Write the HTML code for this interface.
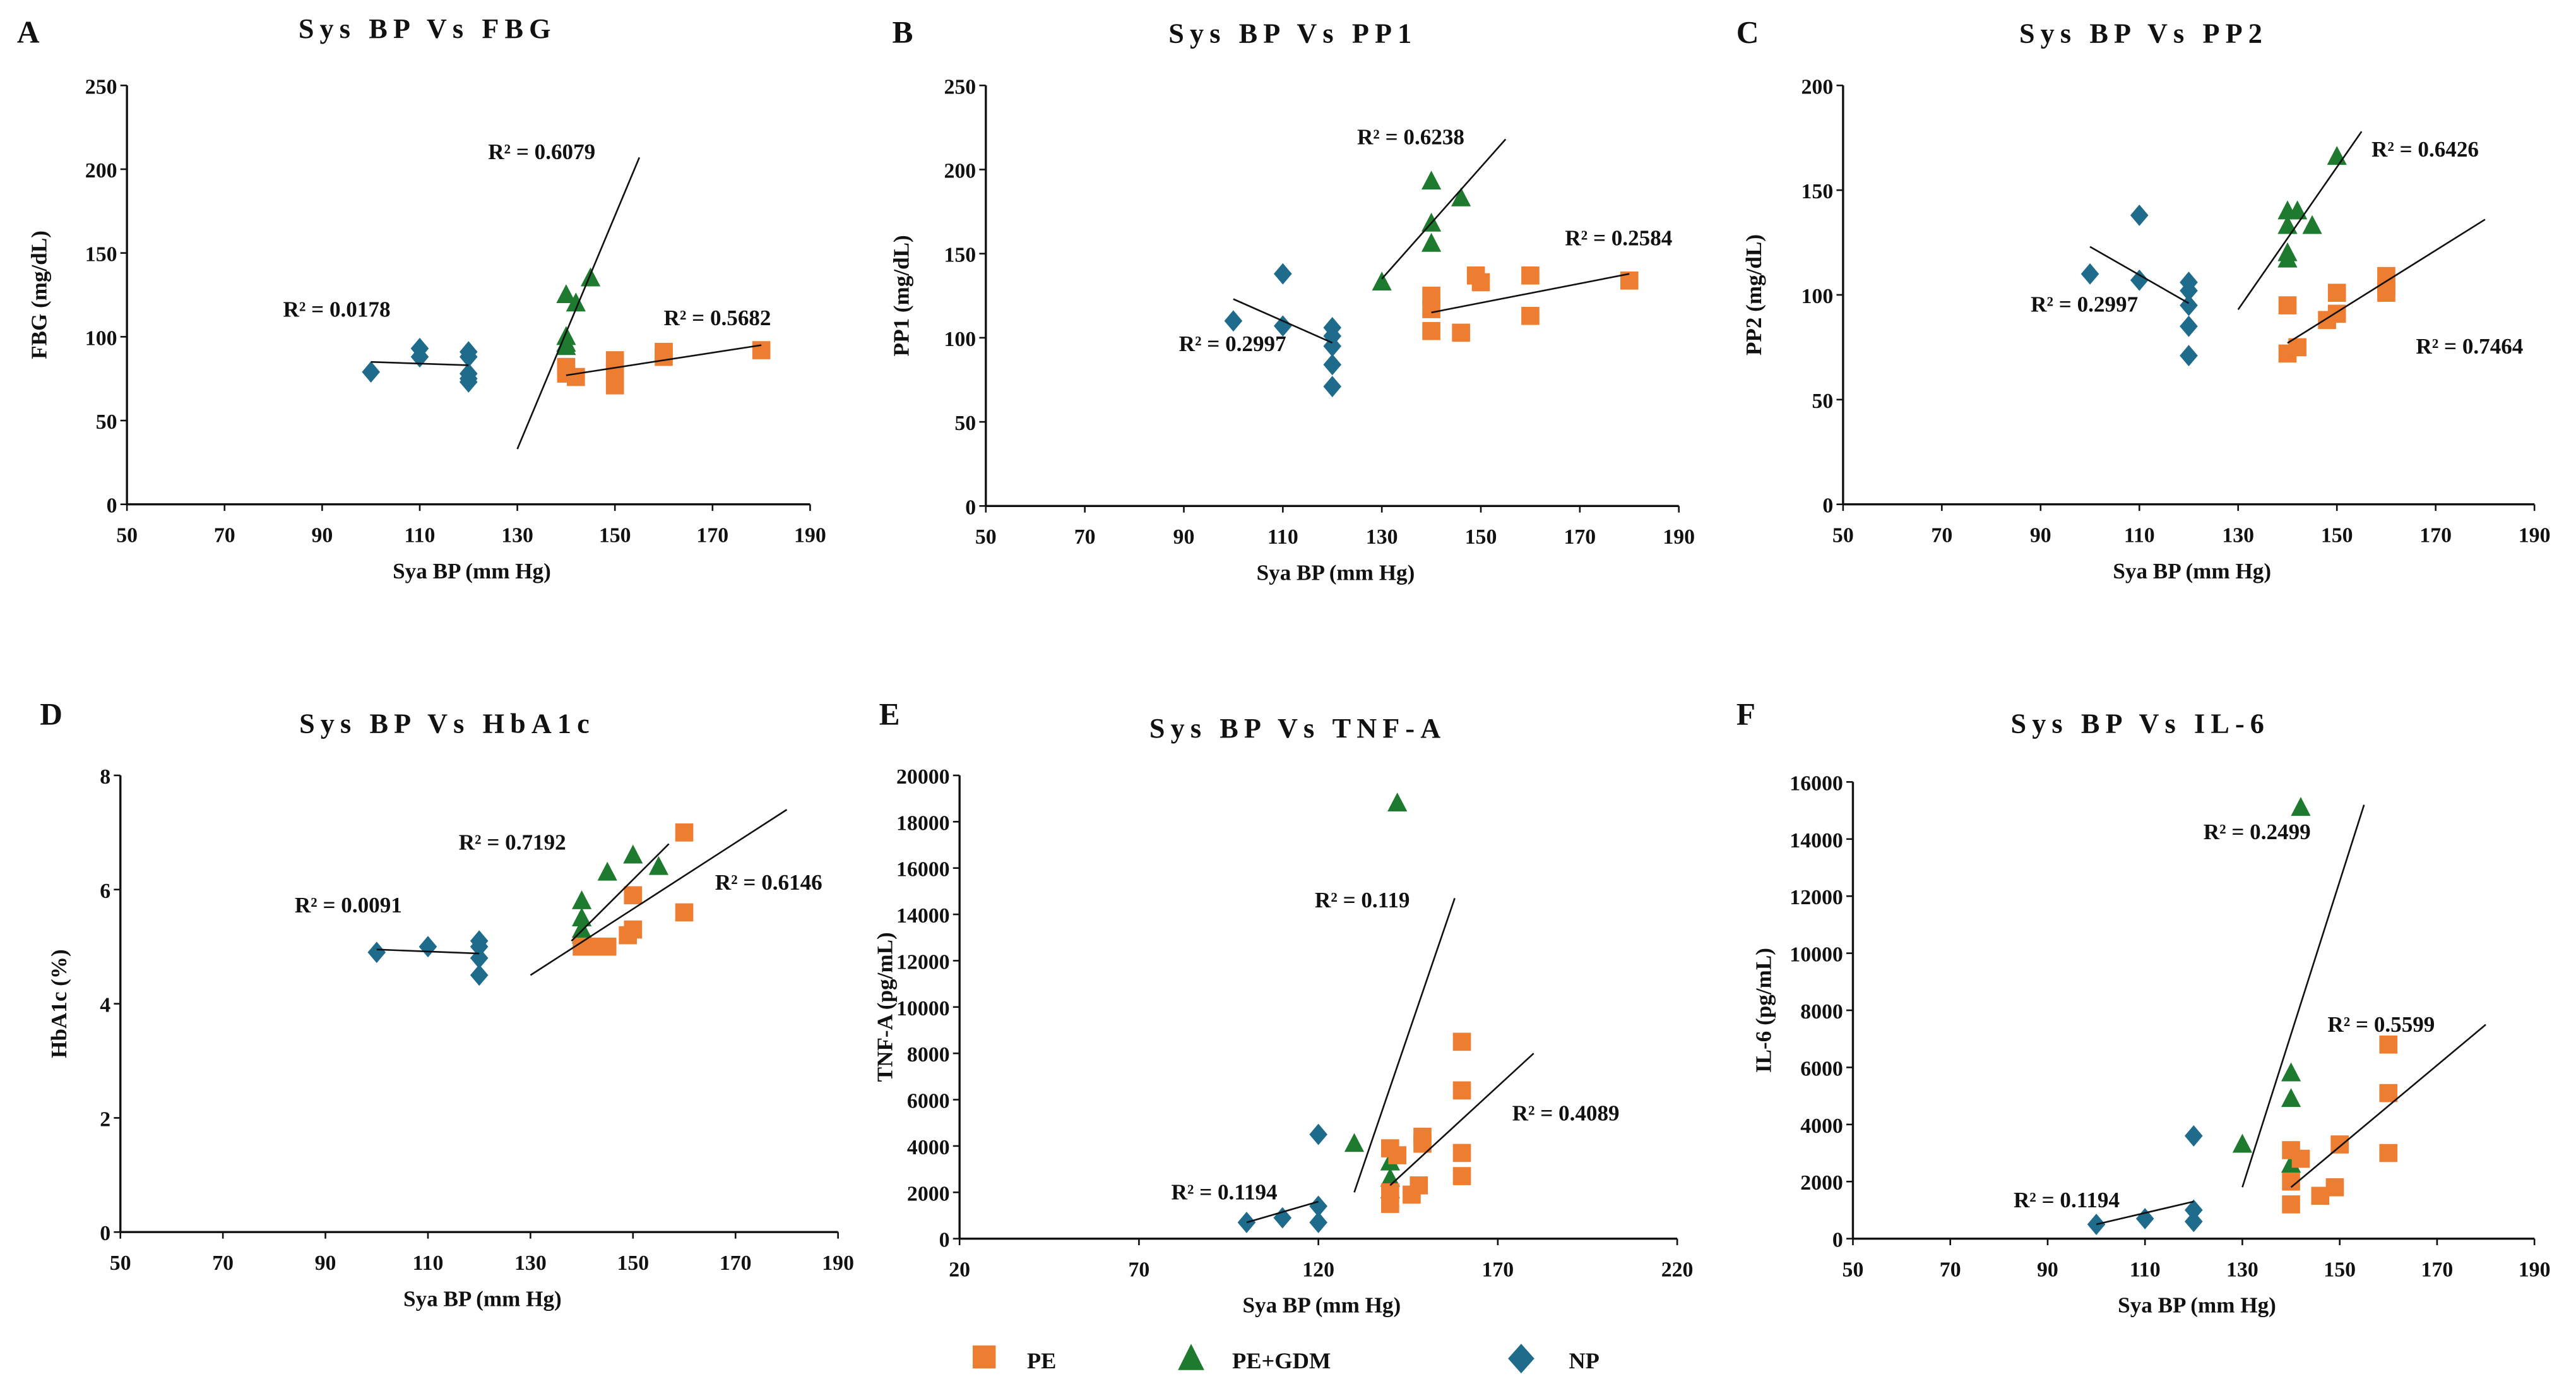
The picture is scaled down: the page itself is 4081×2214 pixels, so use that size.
<!DOCTYPE html>
<html><head><meta charset="utf-8"><style>
html,body{margin:0;padding:0;background:#fff}
svg{display:block}
text{font-family:"Liberation Serif",serif;font-weight:bold;fill:#111}
</style></head><body>
<svg id="fig" width="4081" height="2214" viewBox="0 0 1568 851" xmlns="http://www.w3.org/2000/svg"></svg>
<script>
// ---- Data ----
const panelIds=['A','B','C','D','E','F'];
const panelTitles=['Sys BP Vs FBG','Sys BP Vs PP1','Sys BP Vs PP2','Sys BP Vs HbA1c','Sys BP Vs TNF-A','Sys BP Vs IL-6'];
const yTitles=['FBG (mg/dL)','PP1 (mg/dL)','PP2 (mg/dL)','HbA1c (%)','TNF-A (pg/mL)','IL-6 (pg/mL)'];
const xTickSets=[[50,70,90,110,130,150,170,190],[50,70,90,110,130,150,170,190],[50,70,90,110,130,150,170,190],[50,70,90,110,130,150,170,190],[20,70,120,170,220],[50,70,90,110,130,150,170,190]];
const yTickSets=[[0,50,100,150,200,250],[0,50,100,150,200,250],[0,50,100,150,200],[0,2,4,6,8],[0,2000,4000,6000,8000,10000,12000,14000,16000,18000,20000],[0,2000,4000,6000,8000,10000,12000,14000,16000]];
// NP series
const npX=[[100,110,110,120,120,120,120,120],[100,110,110,120,120,120,120,120],[100,110,110,120,120,120,120,120],[100,110,120,120,120,120],[100,110,120,120,120],[100,110,120,120,120]];
const npY=[[79,93,88,91,88,78,75,73],[110,138,107,106,101,95,84,71],[110,138,107,106,102,95,85,71],[4.9,5.0,5.1,5.0,4.8,4.5],[700,900,4500,1400,700],[500,700,3600,1000,600]];
// PE+GDM series
const gdmX=[[140,142,145,140,140,140],[130,140,140,140,146],[140,140,140,140,142,145,150],[140,140,140,140,140,145,150,155],[130,140,140,140,142],[130,140,140,140,142]];
const gdmY=[[125,120,135,100,96,94],[133,193,168,156,183],[140,133,120,117,140,133,166],[5.8,5.5,5.3,5.2,5.1,6.3,6.6,6.4],[4100,3300,2600,2100,18800],[3300,5800,4900,2600,15100]];
// PE series
const peX=[[140,140,142,150,150,150,160,160,180],[140,140,140,146,149,150,160,160,180],[140,140,142,148,150,150,160,160,160],[140,142,145,150,150,149,160,160],[140,140,140,142,146,148,149,149,160,160,160,160],[140,140,140,142,146,149,150,160,160,160]];
const peY=[[82,78,76,86,80,71,91,88,92],[125,117,104,103,137,133,137,113,134],[95,72,75,88,101,91,109,104,101],[5.0,5.0,5.0,5.9,5.3,5.2,7.0,5.6],[3900,2000,1500,3600,1900,2300,4400,4100,8500,6400,3700,2700],[3100,2000,1200,2800,1500,1800,3300,6800,5100,3000]];
// trend lines [x1,y1,x2,y2]
const npTrend=[[100,85,120,83],[100,123,120,97],[100,123,120,96],[100,4.95,120,4.88],[100,700,120,1600],[100,500,120,1300]];
const gdmTrend=[[130,33,155,207],[130,135,155,218],[130,93,155,178],[138,5.1,157,6.8],[130,2000,158,14700],[130,1800,155,15200]];
const peTrend=[[140,77,180,95],[140,115,180,138],[140,77,180,136],[130,4.5,180,7.4],[140,2300,180,8000],[140,1800,180,7500]];
// R² labels [text, x, y] in data coordinates
const r2Labels=[
 [['0.0178',82,112],['0.6079',124,206],['0.5682',160,107]],
 [['0.6238',125,215],['0.2584',167,155],['0.2997',89,92],],
 [['0.6426',157,166],['0.2997',88,92],['0.7464',166,72]],
 [['0.7192',116,6.7],['0.0091',84,5.6],['0.6146',166,6.0]],
 [['0.119',119,14300],['0.4089',174,5100],['0.1194',79,1700]],
 [['0.2499',122,14000],['0.5599',147.5,7250],['0.1194',83,1100]]];
// ---- Layout (pixel geometry, not data) ----
const boxes=[
 {x0:77,x1:493,y0:52,y1:307,tx:260,ty:23,lx:10,ly:26,yl:28},
 {x0:600,x1:1022,y0:52,y1:308,tx:787,ty:26,lx:543,ly:26,yl:553},
 {x0:1122,x1:1543,y0:52,y1:307,tx:1305,ty:26,lx:1057,ly:26,yl:1072},
 {x0:73,x1:510,y0:472,y1:750,tx:272,ty:446,lx:24,ly:441,yl:40},
 {x0:584,x1:1021,y0:472,y1:754,tx:790,ty:449,lx:535,ly:441,yl:543},
 {x0:1128,x1:1543,y0:476,y1:754,tx:1303,ty:446,lx:1057,ly:441,yl:1078}];
const C_PE='#ED7D31',C_GDM='#1E7A2E',C_NP='#1F6B8C';
const svg=document.getElementById('fig');
const NS='http://www.w3.org/2000/svg';
function mk(tag,attrs,parent){const e=document.createElementNS(NS,tag);for(const k in attrs)e.setAttribute(k,attrs[k]);(parent||svg).appendChild(e);return e;}
function txt(s,attrs,parent){const e=mk('text',attrs,parent);e.textContent=s;return e;}

panelIds.forEach((id,p)=>{
 const b=boxes[p],xt=xTickSets[p],yt=yTickSets[p];
 const xmin=xt[0],xmax=xt[xt.length-1],ymin=yt[0],ymax=yt[yt.length-1];
 const sx=v=>b.x0+(v-xmin)/(xmax-xmin)*(b.x1-b.x0);
 const sy=v=>b.y1-(v-ymin)/(ymax-ymin)*(b.y1-b.y0);
 const g=mk('g',{});
 
 
 const pl=txt(id,{x:b.lx,y:b.ly,'font-size':19},g);
 
 
 const t=txt(panelTitles[p],{x:b.tx,y:b.ty,'font-size':17,'text-anchor':'middle','letter-spacing':'3.5'},g);
 
 
 const ya=mk('line',{x1:b.x0,y1:b.y0,x2:b.x0,y2:b.y1,stroke:'#111','stroke-width':1.3},g);
 
 
 const xa=mk('line',{x1:b.x0,y1:b.y1,x2:b.x1,y2:b.y1,stroke:'#111','stroke-width':1.3},g);
 
 
 xt.forEach(v=>{
  mk('line',{x1:sx(v),y1:b.y1,x2:sx(v),y2:b.y1+4,stroke:'#111','stroke-width':1},g);
  const l=txt(String(v),{x:sx(v),y:b.y1+23,'font-size':13,'text-anchor':'middle'},g);
  
  
 });
 yt.forEach(v=>{
  mk('line',{x1:b.x0-4,y1:sy(v),x2:b.x0,y2:sy(v),stroke:'#111','stroke-width':1},g);
  const l=txt(String(v),{x:b.x0-6,y:sy(v)+5,'font-size':13,'text-anchor':'end'},g);
  
  
 });
 const xl=txt('Sya BP (mm Hg)',{x:(b.x0+b.x1)/2+2,y:b.y1+45,'font-size':13.5,'text-anchor':'middle'},g);
 
 
 const yc=(b.y0+b.y1)/2;
 const yl=txt(yTitles[p],{x:b.yl,y:yc,'font-size':13.5,'text-anchor':'middle',transform:'rotate(-90 '+b.yl+' '+yc+')'},g);
 
 
 // markers
 npX[p].forEach((x,i)=>{
  const cx=sx(x),cy=sy(npY[p][i]);
  const m=mk('polygon',{points:`${cx},${cy-6.5} ${cx+5.5},${cy} ${cx},${cy+6.5} ${cx-5.5},${cy}`,fill:C_NP},g);
  
  
 });
 gdmX[p].forEach((x,i)=>{
  const cx=sx(x),cy=sy(gdmY[p][i]);
  const m=mk('polygon',{points:`${cx},${cy-6.5} ${cx+6},${cy+5} ${cx-6},${cy+5}`,fill:C_GDM},g);
  
  
 });
 peX[p].forEach((x,i)=>{
  const cx=sx(x),cy=sy(peY[p][i]);
  const m=mk('rect',{x:cx-5.5,y:cy-5.5,width:11,height:11,fill:C_PE},g);
  
  
 });
 [[npTrend,'np-trendline'],[gdmTrend,'pe-gdm-trendline'],[peTrend,'pe-trendline']].forEach(([arr,nm])=>{
  const a=arr[p];
  const l=mk('line',{x1:sx(a[0]),y1:sy(a[1]),x2:sx(a[2]),y2:sy(a[3]),stroke:'#111','stroke-width':1},g);
  
  
 });
 r2Labels[p].forEach(r=>{
  const l=txt('R² = '+r[0],{x:sx(r[1]),y:sy(r[2]),'font-size':13.5},g);
  
  
 });
});
// legend
const lg=mk('g',{});


const l1=mk('rect',{x:592,y:819,width:14,height:14,fill:C_PE},lg);


const t1=txt('PE',{x:625,y:833,'font-size':14},lg);


const l2=mk('polygon',{points:'725,818 733,834 717,834',fill:C_GDM},lg);


const t2=txt('PE+GDM',{x:750,y:833,'font-size':14},lg);


const l3=mk('polygon',{points:'926,818 934,827 926,836 918,827',fill:C_NP},lg);


const t3=txt('NP',{x:955,y:833,'font-size':14},lg);


</script>
</body></html>
